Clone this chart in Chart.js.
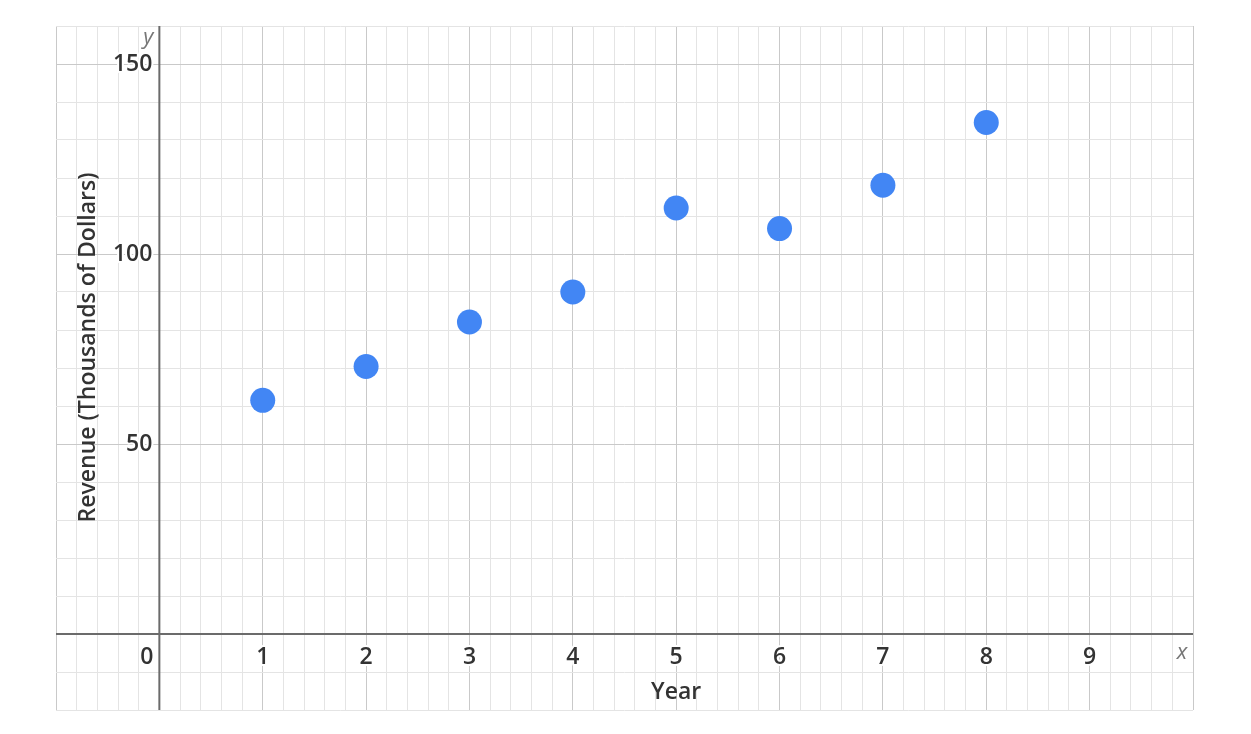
<!DOCTYPE html>
<html>
<head>
<meta charset="utf-8">
<script src="https://cdn.jsdelivr.net/npm/chart.js@4"></script>
<style>
  html, body { margin: 0; padding: 0; background: #fff; }
  #wrap { width: 1251px; height: 734px; position: relative; }
</style>
</head>
<body>
<div id="wrap"><canvas id="chart"></canvas></div>
<script>
// data
const years = [1, 2, 3, 4, 5, 6, 7, 8];
const revenue = [61.5, 70.4, 82.1, 90, 112.1, 106.7, 118.1, 134.6];
const xTickLabels = [0, 1, 2, 3, 4, 5, 6, 7, 8, 9];
const yTickLabels = [50, 100, 150];

const FONT = '"Open Sans", Lato, sans-serif';

function isMajor(v, step) {
    const r = v / step;
    return Math.abs(r - Math.round(r)) < 1e-6;
}

// axis lines, tick labels and titles, drawn like a graphing calculator
const graphPaper = {
    id: 'graphPaper',
    afterDatasetsDraw(chart) {
        const ctx = chart.ctx;
        const xs = chart.scales.x, ys = chart.scales.y;
        const area = chart.chartArea;
        const x0 = xs.getPixelForValue(0);
        const y0 = ys.getPixelForValue(0);

        ctx.save();
        ctx.strokeStyle = '#6b6b6b';
        ctx.lineWidth = 2;
        ctx.beginPath();
        ctx.moveTo(area.left, y0);
        ctx.lineTo(area.right, y0);
        ctx.moveTo(x0, area.top);
        ctx.lineTo(x0, area.bottom);
        ctx.stroke();

        ctx.font = '600 23px ' + FONT;
        ctx.fillStyle = '#333';
        ctx.strokeStyle = '#fff';
        ctx.lineWidth = 4;
        ctx.lineJoin = 'round';

        // x labels
        ctx.textBaseline = 'middle';
        xTickLabels.forEach(v => {
            const px = xs.getPixelForValue(v);
            if (v === 0) {
                ctx.textAlign = 'right';
                ctx.strokeText('0', px - 6, y0 + 23);
                ctx.fillText('0', px - 6, y0 + 23);
            } else {
                ctx.textAlign = 'center';
                ctx.strokeText(String(v), px, y0 + 23);
                ctx.fillText(String(v), px, y0 + 23);
            }
        });

        // y labels
        ctx.textAlign = 'right';
        yTickLabels.forEach(v => {
            const py = ys.getPixelForValue(v);
            ctx.strokeText(String(v), x0 - 7, py);
            ctx.fillText(String(v), x0 - 7, py);
        });

        // axis letters
        ctx.font = 'italic 22px ' + FONT;
        ctx.fillStyle = '#777';
        ctx.textAlign = 'center';
        ctx.fillText('x', area.right - 11, y0 + 19);
        ctx.fillText('y', x0 - 11, area.top + 12);

        // titles
        ctx.font = '600 23px ' + FONT;
        ctx.fillStyle = '#333';
        ctx.fillText('Year', xs.getPixelForValue(5), y0 + 58);
        ctx.translate(x0 - 71, ys.getPixelForValue(75.4));
        ctx.rotate(-Math.PI / 2);
        ctx.fillText('Revenue (Thousands of Dollars)', 0, 0);
        ctx.restore();
    }
};

new Chart(document.getElementById('chart'), {
    type: 'scatter',
    data: {
        datasets: [{
            label: 'Revenue',
            data: years.map((x, i) => ({ x: x, y: revenue[i] })),
            backgroundColor: '#4286f4',
            borderWidth: 0,
            pointRadius: 12.5,
            pointHoverRadius: 12.5
        }]
    },
    options: {
        responsive: true,
        maintainAspectRatio: false,
        animation: false,
        devicePixelRatio: 1,
        layout: { padding: { left: 56, top: 26, right: 58, bottom: 24 } },
        plugins: { legend: { display: false }, tooltip: { enabled: false } },
        scales: {
            x: {
                type: 'linear',
                min: -1,
                max: 10,
                ticks: { display: false, stepSize: 0.2, autoSkip: false },
                border: { display: false },
                grid: {
                    drawTicks: false,
                    color: c => isMajor(c.tick.value, 1) ? '#c9c9c9' : '#e4e4e4',
                    lineWidth: 1
                }
            },
            y: {
                type: 'linear',
                min: -20,
                max: 160,
                ticks: { display: false, stepSize: 10, autoSkip: false },
                border: { display: false },
                grid: {
                    drawTicks: false,
                    color: c => isMajor(c.tick.value, 50) ? '#c9c9c9' : '#e4e4e4',
                    lineWidth: 1
                }
            }
        }
    },
    plugins: [graphPaper]
});
</script>
</body>
</html>
